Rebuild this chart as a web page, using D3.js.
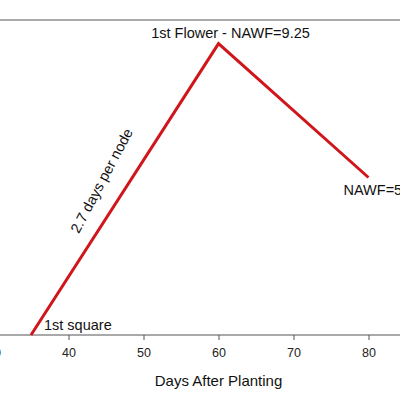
<!DOCTYPE html><html><head><script src="https://d3js.org/d3.v7.min.js"></script>
<style>body{margin:0;background:#fff}</style></head><body><script>
const days=[35,60,80];
const nawf=[0,9.25,5];
const xTicks=[30,40,50,60,70,80];
const W=400,H=400;
const svg=d3.select("body").append("svg").attr("width",W).attr("height",H).style("font-family","'Liberation Sans',Arial,sans-serif");
const x=d3.scaleLinear().domain([30,80]).range([-6.5,368.5]);
const y=d3.scaleLinear().domain([0,10]).range([335,20]);
svg.append("line").attr("x1",0).attr("x2",W).attr("y1",y(10)).attr("y2",y(10)).attr("stroke","#555").attr("stroke-width",1.2);
const ax=svg.append("g").attr("transform","translate(0,335)").call(d3.axisBottom(x).tickValues(xTicks).tickSize(5).tickPadding(8));
ax.select(".domain").remove();
svg.append("line").attr("x1",0).attr("x2",W).attr("y1",335).attr("y2",335).attr("stroke","#555").attr("stroke-width",1.2);
ax.selectAll("line").attr("stroke","#555");
ax.selectAll("text").attr("font-size",12.5).attr("fill","#222").style("font-family","'Liberation Sans',Arial,sans-serif");
svg.append("path").datum(days.map((d,i)=>[d,nawf[i]])).attr("fill","none").attr("stroke","#d0161b").attr("stroke-width",3)
 .attr("d",d3.line().x(d=>x(d[0])).y(d=>y(d[1])));
const t=(s,px,py,sz,rot,anchor)=>svg.append("text").text(s).attr("font-size",sz).attr("fill","#111").attr("text-anchor",anchor||"start")
 .attr("transform",`translate(${px},${py})`+(rot?` rotate(${rot})`:""));
t("1st Flower - NAWF=9.25",x(60)+12,y(9.25)-6,14.5,0,"middle");
t("1st square",x(35)+13,y(0)-5,14.5);
t("NAWF=5",x(80)-25,y(5)+17,14.5);
t("2.7 days per node",106,183,14.5,-62,"middle");
t("Days After Planting",x(60),386,15,0,"middle");
</script></body></html>
